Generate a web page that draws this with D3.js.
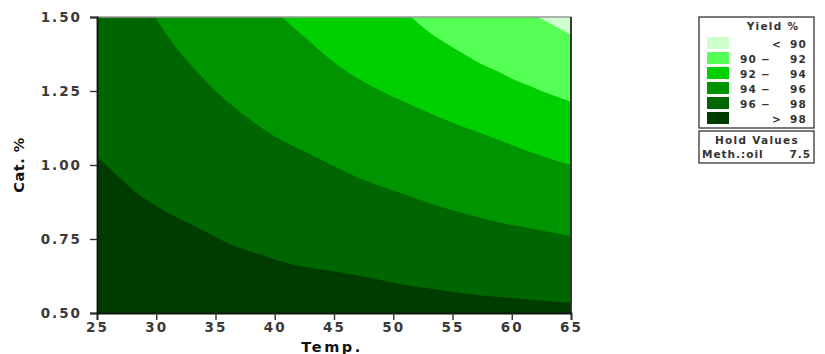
<!DOCTYPE html>
<html>
<head>
<meta charset="utf-8">
<script src="https://cdn.jsdelivr.net/npm/d3@7"></script>
<style>
	body { margin: 0; background: #fff; }
	text { font-family: "DejaVu Sans", Verdana, sans-serif; }
</style>
</head>
<body>
<div id="chart"></div>
<script>
// axis ticks
const tempTicks = [25, 30, 35, 40, 45, 50, 55, 60, 65];
const catTicks = [0.50, 0.75, 1.00, 1.25, 1.50];

// contour boundaries: [temp, cat]
const boundary98 = [[25, 1.028], [26.5, 0.972], [28.2, 0.91], [30.5, 0.85], [33.3, 0.792], [36.1, 0.735],
	[38.9, 0.696], [41.7, 0.662], [45.1, 0.64], [47.5, 0.623], [50.3, 0.6], [53.1, 0.583],
	[55.9, 0.567], [58.7, 0.555], [61.5, 0.546], [65, 0.535]];
const boundary96 = [[29.9, 1.5], [31.6, 1.4], [33.3, 1.321], [35.5, 1.231], [37.2, 1.175], [40.0, 1.096],
	[42.8, 1.04], [45.1, 0.994], [47.5, 0.949], [50.3, 0.91], [53.1, 0.871], [55.9, 0.837],
	[58.7, 0.808], [61.5, 0.786], [65, 0.76]];
const boundary94 = [[40.6, 1.5], [42.8, 1.422], [45.1, 1.344], [47.5, 1.281], [50.3, 1.225], [53.1, 1.175],
	[55.9, 1.129], [58.7, 1.088], [61.5, 1.045], [65, 1.0]];
const boundary92 = [[51.5, 1.5], [53.1, 1.447], [54.5, 1.41], [55.9, 1.377], [57.3, 1.344], [58.7, 1.318],
	[60.1, 1.29], [61.5, 1.268], [63, 1.242], [65, 1.214]];
const boundary90 = [[62.2, 1.5], [65, 1.44]];

// legend
const yieldLabels = [["", "<", "90"], ["90", "\u2212", "92"], ["92", "\u2212", "94"],
	["94", "\u2212", "96"], ["96", "\u2212", "98"], ["", ">", "98"]];
const yieldColors = ["#ccffcc", "#55ff55", "#00d000", "#009400", "#006600", "#003c00"];
const holdLabel = "Meth.:oil";
const holdValue = "7.5";

const margin = { top: 17, right: 254, bottom: 41, left: 97 };
const fullWidth = 825, fullHeight = 354;
const width = fullWidth - margin.left - margin.right;
const height = fullHeight - margin.top - margin.bottom;

const svg = d3.select("#chart").append("svg")
	.attr("width", fullWidth)
	.attr("height", fullHeight);

const g = svg.append("g")
	.attr("transform", "translate(" + margin.left + "," + margin.top + ")");

const x = d3.scaleLinear().domain([25, 65]).range([0, width]);
const y = d3.scaleLinear().domain([0.5, 1.5]).range([height, 0]);

g.append("clipPath").attr("id", "plot-clip")
	.append("rect").attr("width", width).attr("height", height);

const plot = g.append("g").attr("clip-path", "url(#plot-clip)");

// darkest band as background, lighter bands stacked above each boundary
plot.append("rect")
	.attr("width", width)
	.attr("height", height)
	.attr("fill", yieldColors[5]);

const area = d3.area()
	.x(d => x(d[0]))
	.y0(y(1.5))
	.y1(d => y(d[1]))
	.curve(d3.curveMonotoneX);

const bands = [boundary98, boundary96, boundary94, boundary92, boundary90];
bands.forEach((b, i) => {
	plot.append("path")
		.datum(b)
		.attr("d", area)
		.attr("fill", yieldColors[4 - i]);
});

// frame
g.append("path")
	.attr("d", `M0,0H${width}V${height}`)
	.attr("fill", "none")
	.attr("stroke", "#999")
	.attr("stroke-width", 1.5);
g.append("line")
	.attr("x1", width).attr("x2", width)
	.attr("y1", 0).attr("y2", height)
	.attr("stroke", "#111").attr("stroke-width", 1.5);

// axes
const xAxis = d3.axisBottom(x).tickValues(tempTicks).tickSize(7).tickPadding(2).tickFormat(d3.format("d"));
const yAxis = d3.axisLeft(y).tickValues(catTicks).tickSize(7).tickPadding(8).tickFormat(d3.format(".2f"));

const styleAxis = sel => {
	sel.select(".domain").attr("stroke", "#111").attr("stroke-width", 1.8);
	sel.selectAll(".tick line").attr("stroke", "#333").attr("stroke-width", 1.4);
	sel.selectAll(".tick text")
		.attr("fill", "#3a3a3a")
		.attr("font-size", 13.5)
		.attr("font-weight", "bold")
		.attr("letter-spacing", 2)
		.attr("font-family", "DejaVu Sans, sans-serif");
};

g.append("g")
	.attr("transform", "translate(0," + height + ")")
	.call(xAxis)
	.call(styleAxis);

g.append("g")
	.call(yAxis)
	.call(styleAxis);

// axis titles
g.append("text")
	.attr("x", width / 2 - 2)
	.attr("y", height + 39)
	.attr("text-anchor", "middle")
	.attr("font-size", 14.5)
	.attr("font-weight", "bold")
	.attr("letter-spacing", 2.5)
	.attr("fill", "#111")
	.text("Temp.");

g.append("text")
	.attr("transform", `translate(${-73},${height / 2}) rotate(-90)`)
	.attr("text-anchor", "middle")
	.attr("font-size", 14.5)
	.attr("font-weight", "bold")
	.attr("letter-spacing", 0.5)
	.attr("fill", "#111")
	.text("Cat. %");

// legend
const legendFont = 10.5;
const legend = svg.append("g").attr("transform", "translate(699,17)");
legend.append("rect")
	.attr("width", 115).attr("height", 111)
	.attr("fill", "#fff")
	.attr("stroke", "#333").attr("stroke-width", 1.3);
legend.append("text")
	.attr("x", 74).attr("y", 13)
	.attr("text-anchor", "middle")
	.attr("font-size", legendFont)
	.attr("font-weight", "bold")
	.attr("letter-spacing", 1.3)
	.attr("fill", "#333")
	.text("Yield  %");

const rows = legend.selectAll(".row")
	.data(yieldLabels)
	.enter()
	.append("g")
	.classed("row", true)
	.attr("transform", (d, i) => "translate(0," + (20 + i * 15) + ")");
rows.append("rect")
	.attr("x", 8).attr("width", 22).attr("height", 12)
	.attr("fill", (d, i) => yieldColors[i]);
const rowText = (col, anchor, xPos) => rows.append("text")
	.attr("x", xPos).attr("y", 10.5)
	.attr("text-anchor", anchor)
	.attr("font-size", legendFont)
	.attr("font-weight", "bold")
	.attr("letter-spacing", 1.2)
	.attr("fill", "#333")
	.text(d => d[col]);
rowText(0, "end", 58);
rowText(1, "middle", d => d[0] === "" ? 78 : 67);
rowText(2, "end", 108);

const hold = svg.append("g").attr("transform", "translate(699,131)");
hold.append("rect")
	.attr("width", 115).attr("height", 32)
	.attr("fill", "#fff")
	.attr("stroke", "#333").attr("stroke-width", 1.3);
hold.append("text")
	.attr("x", 58).attr("y", 13)
	.attr("text-anchor", "middle")
	.attr("font-size", legendFont)
	.attr("font-weight", "bold")
	.attr("letter-spacing", 1.3)
	.attr("fill", "#333")
	.text("Hold Values");
hold.append("text")
	.attr("x", 3).attr("y", 27)
	.attr("font-size", legendFont)
	.attr("font-weight", "bold")
	.attr("letter-spacing", 1)
	.attr("fill", "#333")
	.text(holdLabel);
hold.append("text")
	.attr("x", 112).attr("y", 27)
	.attr("text-anchor", "end")
	.attr("font-size", legendFont)
	.attr("font-weight", "bold")
	.attr("letter-spacing", 1)
	.attr("fill", "#333")
	.text(holdValue);
</script>
</body>
</html>
